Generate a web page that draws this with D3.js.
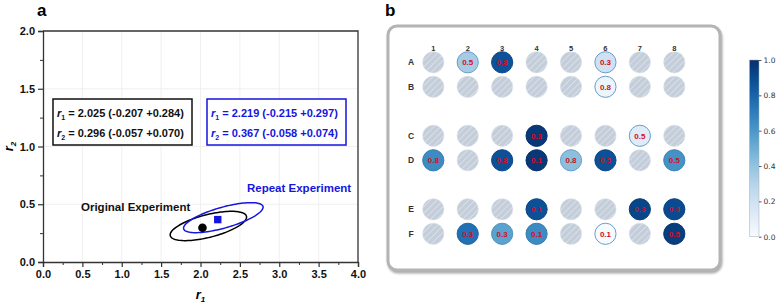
<!DOCTYPE html>
<html>
<head>
<meta charset="utf-8">
<script src="https://cdn.jsdelivr.net/npm/d3@7"></script>
<style>
  html, body { margin: 0; padding: 0; background: #fff; }
  svg { display: block; font-family: Arial, "Liberation Sans", sans-serif; }
</style>
</head>
<body>
<svg id="chart" width="777" height="307"></svg>
<script>
// ---- panel a data ----
const xTicks = [0, 0.5, 1, 1.5, 2, 2.5, 3, 3.5, 4];
const yTicks = [0, 0.5, 1, 1.5, 2];
const originalPoint = [2.025, 0.296];
const repeatPoint = [2.219, 0.367];
// ellipse: centre x, centre y, x half-range, y half-range, phase
const originalEllipse = [2.10, 0.312, 0.485, 0.127, 0.92];
const repeatEllipse = [2.29, 0.384, 0.505, 0.130, 0.80];
const originalText = ["2.025 (-0.207 +0.284)", "0.296 (-0.057 +0.070)"];
const repeatText = ["2.219 (-0.215 +0.297)", "0.367 (-0.058 +0.074)"];

// ---- panel b data ----
const rows = ["A", "B", "C", "D", "E", "F"];
const rowSlots = [0, 1, 3, 4, 6, 7];
const cols = [1, 2, 3, 4, 5, 6, 7, 8];
// colour value for each well (null = hatched / empty)
const wellColor = [
  [null, 0.35, 0.87, null, null, 0.20, null, null],
  [null, null, null, null, null, 0.05, null, null],
  [null, null, null, 0.97, null, null, 0.12, null],
  [0.65, null, 0.88, 0.97, 0.42, 0.88, null, 0.62],
  [null, null, null, 0.88, null, null, 0.92, 0.90],
  [null, 0.75, 0.55, 0.65, null, 0.0, null, 0.95]
];
const wellLabel = [
  [null, "0.5", "0.8", null, null, "0.3", null, null],
  [null, null, null, null, null, "0.8", null, null],
  [null, null, null, "0.3", null, null, "0.5", null],
  ["0.8", null, "0.8", "0.1", "0.8", "0.5", null, "0.5"],
  [null, null, null, "0.1", null, null, "0.3", "0.3"],
  [null, "0.3", "0.3", "0.1", null, "0.1", null, "0.5"]
];
const cbarTicks = [0, 0.2, 0.4, 0.6, 0.8, 1.0];

const svg = d3.select("#chart");

// ================= panel a =================
const x = d3.scaleLinear().domain([0, 4]).range([43, 358]);
const y = d3.scaleLinear().domain([0, 2]).range([262, 31]);

svg.append("text").attr("x", 37).attr("y", 16)
  .attr("font-size", 17).attr("font-weight", "bold").text("a");

// grid
const grid = svg.append("g").attr("stroke", "#ececec").attr("stroke-width", 0.8);
grid.selectAll(".gx").data(xTicks.slice(1, -1)).enter().append("line")
  .attr("x1", d => x(d)).attr("x2", d => x(d)).attr("y1", y(0)).attr("y2", y(2));
grid.selectAll(".gy").data(yTicks.slice(1, -1)).enter().append("line")
  .attr("y1", d => y(d)).attr("y2", d => y(d)).attr("x1", x(0)).attr("x2", x(4));

// minor ticks
const minorX = d3.range(0.25, 4, 0.5);
const minorY = d3.range(0.25, 2, 0.5);
svg.append("g").attr("transform", `translate(0,${y(0)})`)
  .call(d3.axisBottom(x).tickValues(minorX).tickSize(3).tickFormat(""))
  .call(g => g.select(".domain").remove());
svg.append("g").attr("transform", `translate(${x(0)},0)`)
  .call(d3.axisLeft(y).tickValues(minorY).tickSize(3).tickFormat(""))
  .call(g => g.select(".domain").remove());

const xAxis = svg.append("g").attr("transform", `translate(0,${y(0)})`)
  .call(d3.axisBottom(x).tickValues(xTicks).tickSize(5).tickPadding(3).tickFormat(d3.format(".1f")));
const yAxis = svg.append("g").attr("transform", `translate(${x(0)},0)`)
  .call(d3.axisLeft(y).tickValues(yTicks).tickSize(5).tickPadding(3).tickFormat(d3.format(".1f")));
[xAxis, yAxis].forEach(g => {
  g.selectAll("text").attr("font-size", 11).attr("font-weight", "bold").attr("fill", "#111")
    .attr("font-family", "Arial, 'Liberation Sans', sans-serif");
  g.selectAll("line").attr("stroke", "#333").attr("stroke-width", 1.2);
  g.select(".domain").attr("stroke", "#333").attr("stroke-width", 1.3);
});
svg.selectAll(".tick line").attr("stroke", "#333");

// top / right frame
svg.append("path")
  .attr("d", `M${x(0)},${y(2)}H${x(4)}V${y(0)}`)
  .attr("fill", "none").attr("stroke", "#333").attr("stroke-width", 1.3);

// axis titles
svg.append("text").attr("x", x(2)).attr("y", 299).attr("text-anchor", "middle")
  .attr("font-size", 13).attr("font-weight", "bold").attr("font-style", "italic")
  .html('r<tspan font-size="8" dy="3">1</tspan>');
svg.append("text").attr("transform", `translate(13,${y(1)}) rotate(-90)`).attr("text-anchor", "middle")
  .attr("font-size", 13).attr("font-weight", "bold").attr("font-style", "italic")
  .html('r<tspan font-size="8" dy="3">2</tspan>');

// ellipses
function ellipsePts(e) {
  return d3.range(0, 2 * Math.PI + 0.01, Math.PI / 60)
    .map(t => [x(e[0] + e[2] * Math.cos(t)), y(e[1] + e[3] * Math.cos(t - e[4]))]);
}
const line = d3.line().curve(d3.curveLinearClosed);
svg.append("path").attr("d", line(ellipsePts(originalEllipse)))
  .attr("fill", "none").attr("stroke", "#000").attr("stroke-width", 1.5);
svg.append("path").attr("d", line(ellipsePts(repeatEllipse)))
  .attr("fill", "none").attr("stroke", "#1515e0").attr("stroke-width", 1.5);

svg.append("circle").attr("cx", x(originalPoint[0])).attr("cy", y(originalPoint[1]))
  .attr("r", 4.3).attr("fill", "#000");
svg.append("rect").attr("x", x(repeatPoint[0]) - 3.7).attr("y", y(repeatPoint[1]) - 3.7)
  .attr("width", 7.4).attr("height", 7.4).attr("fill", "#1515e0");

svg.append("text").attr("x", 81).attr("y", 211).attr("font-size", 11.5).attr("font-weight", "bold")
  .attr("fill", "#111").text("Original Experiment");
svg.append("text").attr("x", 247).attr("y", 192).attr("font-size", 11.5).attr("font-weight", "bold")
  .attr("fill", "#1515e0").text("Repeat Experiment");

// parameter boxes
function paramBox(x0, x1, color, vals) {
  const g = svg.append("g");
  g.append("rect").attr("x", x0).attr("y", 99).attr("width", x1 - x0).attr("height", 46)
    .attr("fill", "#fff").attr("stroke", color).attr("stroke-width", 1.5);
  vals.forEach((v, i) => {
    g.append("text").attr("x", x0 + 4).attr("y", 117 + i * 20)
      .attr("font-size", 11).attr("font-weight", "bold").attr("fill", color)
      .html(`<tspan font-style="italic">r</tspan><tspan font-size="7" dy="3">${i + 1}</tspan><tspan dy="-3"> = ${v}</tspan>`);
  });
}
paramBox(53, 192, "#111", originalText);
paramBox(207, 346, "#1515e0", repeatText);

// ================= panel b =================
svg.append("text").attr("x", 385).attr("y", 16)
  .attr("font-size", 17).attr("font-weight", "bold").text("b");

const defs = svg.append("defs");
const filt = defs.append("filter").attr("id", "shadow").attr("x", "-5%").attr("y", "-5%")
  .attr("width", "110%").attr("height", "115%");
filt.append("feDropShadow").attr("dx", 1).attr("dy", 2).attr("stdDeviation", 1)
  .attr("flood-color", "#888").attr("flood-opacity", 0.7);

svg.append("rect").attr("x", 388).attr("y", 26).attr("width", 332).attr("height", 244)
  .attr("rx", 9).attr("fill", "#fff").attr("stroke", "#b4b4b4").attr("stroke-width", 3)
  .attr("filter", "url(#shadow)");

const hatch = defs.append("pattern").attr("id", "hatch").attr("patternUnits", "userSpaceOnUse")
  .attr("width", 4.5).attr("height", 4.5).attr("patternTransform", "rotate(45)");
hatch.append("rect").attr("width", 4.5).attr("height", 4.5).attr("fill", "#c3ceda");
hatch.append("line").attr("x1", 0).attr("y1", 0).attr("x2", 0).attr("y2", 4.5)
  .attr("stroke", "#dde3ea").attr("stroke-width", 1.6);

const cx = d3.scalePoint().domain(cols).range([433.3, 674.3]);
const cy = d3.scaleLinear().domain([0, 7]).range([62.3, 233.8]);
const color = d3.scaleSequential(d3.interpolateBlues).domain([0, 1]);

svg.selectAll(".colLab").data(cols).enter().append("text")
  .attr("x", d => cx(d)).attr("y", 51).attr("text-anchor", "middle")
  .attr("font-size", 7.5).attr("font-weight", "bold").attr("fill", "#333").text(d => d);
svg.selectAll(".rowLab").data(rows).enter().append("text")
  .attr("x", 411).attr("y", (d, i) => cy(rowSlots[i]) + 3).attr("text-anchor", "middle")
  .attr("font-size", 8.5).attr("font-weight", "bold").attr("fill", "#333").text(d => d);

const wells = [];
rows.forEach((r, i) => cols.forEach((c, j) => {
  wells.push({ r: i, c: c, v: wellColor[i][j], lab: wellLabel[i][j] });
}));

svg.selectAll(".well").data(wells).enter().append("circle")
  .attr("cx", d => cx(d.c)).attr("cy", d => cy(rowSlots[d.r])).attr("r", 10.6)
  .attr("fill", d => d.v === null ? "url(#hatch)" : color(d.v))
  .attr("stroke", d => d.v === null ? "#d4dbe3" : (d.v < 0.5 ? "#6a9dc8" : d3.color(color(d.v)).darker(0.3)))
  .attr("stroke-width", d => d.v === null ? 0.6 : 1);

svg.selectAll(".wlab").data(wells.filter(d => d.lab)).enter().append("text")
  .attr("x", d => cx(d.c)).attr("y", d => cy(rowSlots[d.r]) + 3)
  .attr("text-anchor", "middle").attr("font-size", 8).attr("font-weight", "bold")
  .attr("fill", "#d0101e").text(d => d.lab);

// colorbar
const cb = d3.scaleLinear().domain([0, 1]).range([236.7, 60]);
const grad = defs.append("linearGradient").attr("id", "cbar")
  .attr("x1", 0).attr("y1", 1).attr("x2", 0).attr("y2", 0);
d3.range(0, 1.001, 0.1).forEach(t => {
  grad.append("stop").attr("offset", t).attr("stop-color", color(t));
});
svg.append("rect").attr("x", 749.5).attr("y", cb(1)).attr("width", 9.5).attr("height", cb(0) - cb(1))
  .attr("fill", "url(#cbar)").attr("stroke", "#aaa").attr("stroke-width", 0.5);
const cbAxis = svg.append("g").attr("transform", "translate(759,0)")
  .call(d3.axisRight(cb).tickValues(cbarTicks).tickSize(2.5).tickPadding(2).tickFormat(d3.format(".1f")));
cbAxis.select(".domain").remove();
cbAxis.selectAll("text").attr("font-size", 7.5).attr("fill", "#333")
  .attr("font-family", "'DejaVu Sans', sans-serif");
cbAxis.selectAll("line").attr("stroke", "#555");
</script>
</body>
</html>
